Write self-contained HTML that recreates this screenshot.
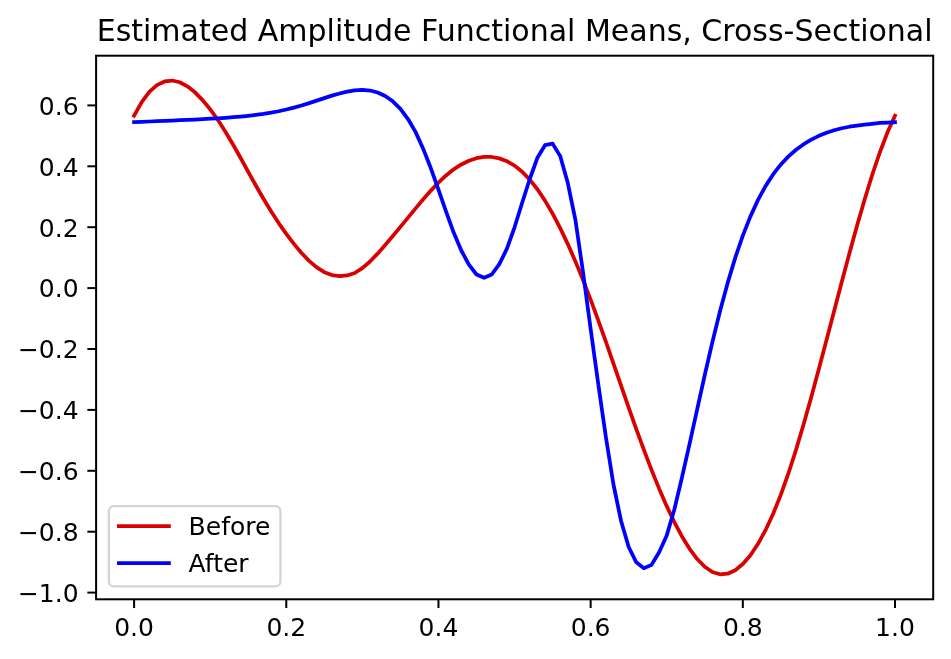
<!DOCTYPE html>
<html><head><meta charset="utf-8"><title>Estimated Amplitude Functional Means</title>
<style>
html,body{margin:0;padding:0;background:#fff;overflow:hidden;}
svg{display:block;}
text{font-family:'DejaVu Sans', 'Liberation Sans', sans-serif;fill:#000;}
</style></head><body>
<svg width="951" height="659" viewBox="0 0 951 659">
<rect x="0" y="0" width="951" height="659" fill="#fff"/>
<path d="M134.10,115.70 L141.71,102.13 L149.32,91.97 L156.93,85.15 L164.54,81.45 L172.14,80.53 L179.75,82.26 L187.36,86.32 L194.97,92.32 L202.58,100.10 L210.19,109.25 L217.80,119.84 L225.41,131.70 L233.02,144.53 L240.63,158.04 L248.23,171.83 L255.84,185.53 L263.45,198.80 L271.06,211.34 L278.67,223.05 L286.28,233.91 L293.89,243.91 L301.50,252.95 L309.11,260.84 L316.72,267.37 L324.32,272.19 L331.93,275.11 L339.54,276.07 L347.15,275.44 L354.76,272.98 L362.37,268.13 L369.98,261.48 L377.59,253.66 L385.20,245.06 L392.81,236.07 L400.41,226.88 L408.02,217.61 L415.63,208.34 L423.24,199.23 L430.85,190.58 L438.46,182.62 L446.07,175.42 L453.68,169.30 L461.29,164.44 L468.90,160.73 L476.50,158.22 L484.11,156.95 L491.72,156.99 L499.33,158.37 L506.94,161.22 L514.55,165.66 L522.16,171.78 L529.77,179.66 L537.38,189.28 L544.99,200.63 L552.60,213.61 L560.20,228.14 L567.81,244.10 L575.42,261.41 L583.03,279.97 L590.64,299.65 L598.25,320.31 L605.86,341.72 L613.47,363.62 L621.08,385.70 L628.68,407.64 L636.29,429.15 L643.90,449.97 L651.51,469.86 L659.12,488.64 L666.73,506.13 L674.34,522.13 L681.95,536.41 L689.56,548.81 L697.17,559.03 L704.77,566.80 L712.38,571.98 L719.99,574.33 L727.60,573.70 L735.21,570.18 L742.82,563.97 L750.43,555.20 L758.04,543.83 L765.65,529.97 L773.26,513.56 L780.87,494.60 L788.47,473.20 L796.08,449.56 L803.69,424.00 L811.30,396.92 L818.91,368.76 L826.52,339.95 L834.13,310.91 L841.74,282.02 L849.35,253.60 L856.95,226.03 L864.56,199.69 L872.17,175.02 L879.78,152.49 L887.39,132.58 L895.00,115.70" fill="none" stroke="#d90000" stroke-width="3.75" stroke-linejoin="round" stroke-linecap="square"/>
<path d="M134.10,122.03 L141.71,121.78 L149.32,121.50 L156.93,121.20 L164.54,120.88 L172.14,120.55 L179.75,120.21 L187.36,119.87 L194.97,119.51 L202.58,119.13 L210.19,118.72 L217.80,118.27 L225.41,117.78 L233.02,117.21 L240.63,116.56 L248.23,115.81 L255.84,114.92 L263.45,113.88 L271.06,112.65 L278.67,111.22 L286.28,109.54 L293.89,107.61 L301.50,105.45 L309.11,103.09 L316.72,100.61 L324.32,98.10 L331.93,95.66 L339.54,93.45 L347.15,91.63 L354.76,90.40 L362.37,89.96 L369.98,90.55 L377.59,92.45 L385.20,95.93 L392.81,101.30 L400.41,108.88 L408.02,119.04 L415.63,132.13 L423.24,148.90 L430.85,168.30 L438.46,189.70 L446.07,211.60 L453.68,232.60 L461.29,250.50 L468.90,264.70 L476.50,274.50 L484.11,277.80 L491.72,274.50 L499.33,264.10 L506.94,248.70 L514.55,227.30 L522.16,202.80 L529.77,179.00 L537.38,157.80 L544.99,145.20 L552.60,143.60 L560.20,156.10 L567.81,183.10 L575.42,220.00 L583.03,272.20 L590.64,329.00 L598.25,384.00 L605.86,437.00 L613.47,484.50 L621.08,521.00 L628.68,547.00 L636.29,562.30 L643.90,568.20 L651.51,564.90 L659.12,552.20 L666.73,535.40 L674.34,509.50 L681.95,477.50 L689.56,443.95 L697.17,409.33 L704.77,375.03 L712.38,342.10 L719.99,311.30 L727.60,283.14 L735.21,257.90 L742.82,235.66 L750.43,216.37 L758.04,199.86 L765.65,185.88 L773.26,174.18 L780.87,164.46 L788.47,156.40 L796.08,149.72 L803.69,144.19 L811.30,139.62 L818.91,135.86 L826.52,132.78 L834.13,130.27 L841.74,128.26 L849.35,126.72 L856.95,125.55 L864.56,124.61 L872.17,123.77 L879.78,122.96 L887.39,122.65 L895.00,122.30" fill="none" stroke="#0000ff" stroke-width="3.75" stroke-linejoin="round" stroke-linecap="square"/>
<rect x="96.1" y="55.7" width="837.1" height="543.6" fill="none" stroke="#000" stroke-width="2" stroke-linejoin="miter"/>
<line x1="134.10" y1="599.3" x2="134.10" y2="608.05" stroke="#000" stroke-width="2"/>
<text x="134.10" y="635.80" text-anchor="middle" font-size="25">0.0</text>
<line x1="286.28" y1="599.3" x2="286.28" y2="608.05" stroke="#000" stroke-width="2"/>
<text x="286.28" y="635.80" text-anchor="middle" font-size="25">0.2</text>
<line x1="438.46" y1="599.3" x2="438.46" y2="608.05" stroke="#000" stroke-width="2"/>
<text x="438.46" y="635.80" text-anchor="middle" font-size="25">0.4</text>
<line x1="590.64" y1="599.3" x2="590.64" y2="608.05" stroke="#000" stroke-width="2"/>
<text x="590.64" y="635.80" text-anchor="middle" font-size="25">0.6</text>
<line x1="742.82" y1="599.3" x2="742.82" y2="608.05" stroke="#000" stroke-width="2"/>
<text x="742.82" y="635.80" text-anchor="middle" font-size="25">0.8</text>
<line x1="895.00" y1="599.3" x2="895.00" y2="608.05" stroke="#000" stroke-width="2"/>
<text x="895.00" y="635.80" text-anchor="middle" font-size="25">1.0</text>
<line x1="87.35" y1="105.40" x2="96.1" y2="105.40" stroke="#000" stroke-width="2"/>
<text x="78.60" y="114.70" text-anchor="end" font-size="25">0.6</text>
<line x1="87.35" y1="166.30" x2="96.1" y2="166.30" stroke="#000" stroke-width="2"/>
<text x="78.60" y="175.60" text-anchor="end" font-size="25">0.4</text>
<line x1="87.35" y1="227.20" x2="96.1" y2="227.20" stroke="#000" stroke-width="2"/>
<text x="78.60" y="236.50" text-anchor="end" font-size="25">0.2</text>
<line x1="87.35" y1="288.10" x2="96.1" y2="288.10" stroke="#000" stroke-width="2"/>
<text x="78.60" y="297.40" text-anchor="end" font-size="25">0.0</text>
<line x1="87.35" y1="349.00" x2="96.1" y2="349.00" stroke="#000" stroke-width="2"/>
<text x="78.60" y="358.30" text-anchor="end" font-size="25">−0.2</text>
<line x1="87.35" y1="409.90" x2="96.1" y2="409.90" stroke="#000" stroke-width="2"/>
<text x="78.60" y="419.20" text-anchor="end" font-size="25">−0.4</text>
<line x1="87.35" y1="470.80" x2="96.1" y2="470.80" stroke="#000" stroke-width="2"/>
<text x="78.60" y="480.10" text-anchor="end" font-size="25">−0.6</text>
<line x1="87.35" y1="531.70" x2="96.1" y2="531.70" stroke="#000" stroke-width="2"/>
<text x="78.60" y="541.00" text-anchor="end" font-size="25">−0.8</text>
<line x1="87.35" y1="592.60" x2="96.1" y2="592.60" stroke="#000" stroke-width="2"/>
<text x="78.60" y="601.90" text-anchor="end" font-size="25">−1.0</text>
<text x="514.65" y="41.3" text-anchor="middle" font-size="30">Estimated Amplitude Functional Means, Cross-Sectional</text>
<rect x="108.9" y="506.1" width="171.5" height="80.3" rx="5" ry="5" fill="#fff" fill-opacity="0.8" stroke="#ccc" stroke-opacity="0.85" stroke-width="2.3"/>
<line x1="118.9" y1="526" x2="168.9" y2="526" stroke="#d90000" stroke-width="3.75" stroke-linecap="square"/>
<line x1="118.9" y1="563" x2="168.9" y2="563" stroke="#0000ff" stroke-width="3.75" stroke-linecap="square"/>
<text x="188.6" y="534.8" font-size="25">Before</text>
<text x="188.6" y="571.6" font-size="25">After</text>
</svg>
</body></html>
